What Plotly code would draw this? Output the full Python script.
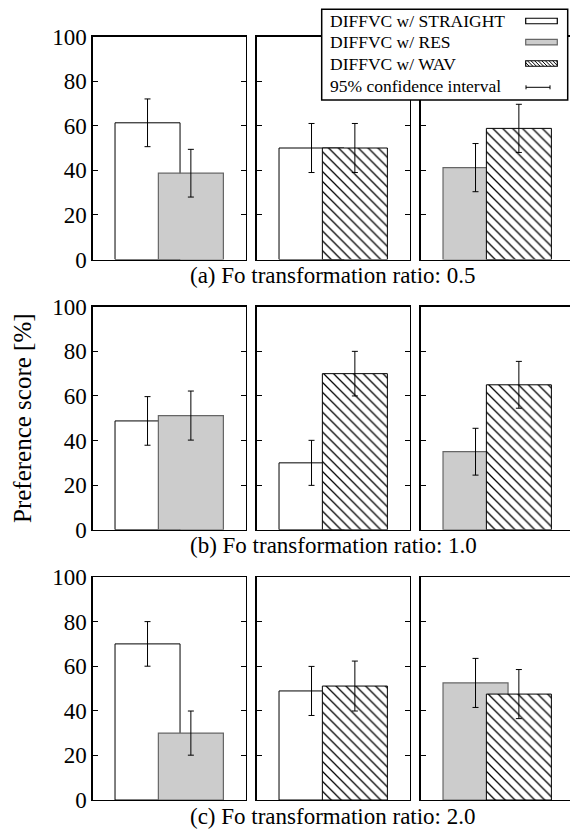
import plotly.graph_objects as go

W, H = 570, 832

# ---------------- data ----------------
methods = ["DIFFVC w/ STRAIGHT", "DIFFVC w/ RES", "DIFFVC w/ WAV"]
ratios = ["0.5", "1.0", "2.0"]
row_labels = ["(a)", "(b)", "(c)"]
# method pairs compared in each column (indices into methods)
pairs = [(0, 1), (0, 2), (1, 2)]

scores_a = [[61.3, 38.7], [50.0, 50.0], [41.2, 58.8]]
scores_b = [[48.8, 51.2], [30.0, 70.0], [35.0, 65.0]]
scores_c = [[70.0, 30.0], [48.9, 51.1], [52.5, 47.5]]

ci_a = [[10.7, 10.7], [11.0, 11.0], [10.8, 10.8]]
ci_b = [[10.9, 11.0], [10.1, 10.0], [10.5, 10.5]]
ci_c = [[10.0, 9.9], [11.0, 11.2], [11.0, 11.0]]

y_ticks = [0, 20, 40, 60, 80, 100]

scores = [scores_a, scores_b, scores_c]
cis = [ci_a, ci_b, ci_c]

# ---------------- styles ----------------
FONT = "Liberation Serif, Times New Roman, serif"
bar_styles = [
    dict(color="white", line=dict(color="black", width=1)),
    dict(color="#cccccc", line=dict(color="#666666", width=1.2)),
    dict(color="white", line=dict(color="black", width=1),
         pattern=dict(shape="\\", fgcolor="black", bgcolor="white", size=7, solidity=0.18)),
]

panel_left = [92.7, 256.7, 420.7]
panel_w = 153.0
row_top = [36.5, 306.75, 577.0]
row_h = 223.0
unit_px = panel_w / 3.53
x0 = -1.265

fig = go.Figure()
layout = dict(
    template="none",
    width=W, height=H, autosize=False,
    margin=dict(l=0, r=0, t=0, b=0, pad=0, autoexpand=False),
    paper_bgcolor="white", plot_bgcolor="white",
    barmode="overlay", showlegend=False,
    font=dict(family=FONT, color="black"),
)

for r in range(3):
    for c in range(3):
        idx = r * 3 + c + 1
        sfx = "" if idx == 1 else str(idx)
        xa, ya = "x" + sfx, "y" + sfx
        left = panel_left[c]
        right = min(left + panel_w, W)
        cats = [methods[pairs[c][0]], methods[pairs[c][1]]]
        for k in range(2):
            m = pairs[c][k]
            fig.add_trace(go.Bar(
                x=[cats[k]], y=[scores[r][c][k]],
                width=1.5, xaxis=xa, yaxis=ya,
                marker=bar_styles[m],
                error_y=dict(type="data", array=[cis[r][c][k]], color="black",
                             thickness=1, width=3),
                name=methods[m],
            ))
        layout["xaxis" + sfx] = dict(
            domain=[left / W, right / W], anchor=ya,
            type="category", categoryorder="array", categoryarray=cats,
            range=[x0, x0 + (right - left) / unit_px],
            showline=True, linecolor="black", linewidth=1.3, mirror=True,
            showticklabels=False, ticks="", showgrid=False, zeroline=False,
            fixedrange=True, automargin=False,
        )
        top = row_top[r]
        bot = top + row_h
        layout["yaxis" + sfx] = dict(
            domain=[1 - bot / H, 1 - top / H], anchor=xa,
            range=[0, 100], tickvals=y_ticks,
            ticks="inside", ticklen=5, tickwidth=1, tickcolor="black",
            showline=True, linecolor="black", linewidth=1.3,
            mirror=("ticks" if c < 2 else False),
            showticklabels=(c == 0),
            tickfont=dict(family=FONT, size=23, color="black"),
            showgrid=False, zeroline=False, fixedrange=True, automargin=False,
        )

annotations = []
# row subtitles
center_x = (panel_left[0] + panel_left[2] + panel_w) / 2
for r in range(3):
    bot = row_top[r] + row_h
    annotations.append(dict(
        text=f"{row_labels[r]} Fo transformation ratio: {ratios[r]}",
        x=center_x / W, y=1 - (bot + 1.5) / H, xref="paper", yref="paper",
        xanchor="center", yanchor="top", showarrow=False,
        font=dict(family=FONT, size=23, color="black"),
    ))
# y title
annotations.append(dict(
    text="Preference score [%]", textangle=-90,
    x=22 / W, y=1 - 418 / H, xref="paper", yref="paper",
    xanchor="center", yanchor="middle", showarrow=False,
    font=dict(family=FONT, size=25, color="black"),
))

# ---------------- legend (drawn manually: swatch to the right of text) ----------------
def px(x):
    return x / W

def py(y):
    return 1 - y / H

shapes = []
shapes.append(dict(type="rect", xref="paper", yref="paper", layer="above",
                   x0=px(321.7), x1=px(567.7), y0=py(100), y1=py(9.3),
                   fillcolor="white", line=dict(color="black", width=1.5)))
legend_rows = [21.0, 42.2, 63.5, 85.8]
legend_texts = methods + ["95% confidence interval"]
sw_l, sw_r, sw_h = 525.7, 557.3, 5.5
for i, t in enumerate(legend_texts):
    yc = legend_rows[i]
    annotations.append(dict(
        text=t, x=px(327.5), y=py(yc), xref="paper", yref="paper",
        xanchor="left", yanchor="middle", showarrow=False,
        font=dict(family=FONT, size=17.5, color="black"),
    ))
    if i < 3:
        st = bar_styles[i]
        shapes.append(dict(type="rect", xref="paper", yref="paper", layer="above",
                           x0=px(sw_l), x1=px(sw_r), y0=py(yc + sw_h / 2), y1=py(yc - sw_h / 2),
                           fillcolor=st["color"],
                           line=dict(color=st["line"]["color"], width=1.2)))
        if i == 2:
            xs = sw_l - sw_h
            while xs < sw_r:
                a0, a1 = xs, xs + sw_h
                ya0, ya1 = yc - sw_h / 2, yc + sw_h / 2
                if a0 < sw_l:
                    ya0 += (sw_l - a0); a0 = sw_l
                if a1 > sw_r:
                    ya1 -= (a1 - sw_r); a1 = sw_r
                if a1 > a0:
                    shapes.append(dict(type="line", xref="paper", yref="paper", layer="above",
                                       x0=px(a0), x1=px(a1), y0=py(ya0), y1=py(ya1),
                                       line=dict(color="black", width=1)))
                xs += 3.6
    else:
        shapes.append(dict(type="line", xref="paper", yref="paper", layer="above",
                           x0=px(526), x1=px(550), y0=py(yc + 1.5), y1=py(yc + 1.5),
                           line=dict(color="black", width=1)))
        for xe in (526, 550):
            shapes.append(dict(type="line", xref="paper", yref="paper", layer="above",
                               x0=px(xe), x1=px(xe), y0=py(yc - 0.5), y1=py(yc + 3.5),
                               line=dict(color="black", width=1)))

layout["annotations"] = annotations
layout["shapes"] = shapes
fig.update_layout(**layout)

# remove the browser's default 8px body margin so the 570x832 figure fills the window
fig.write_html(
    "out.html",
    config={"displayModeBar": False, "staticPlot": True},
    post_script="document.body.style.margin='0';document.body.style.overflow='hidden';",
)
